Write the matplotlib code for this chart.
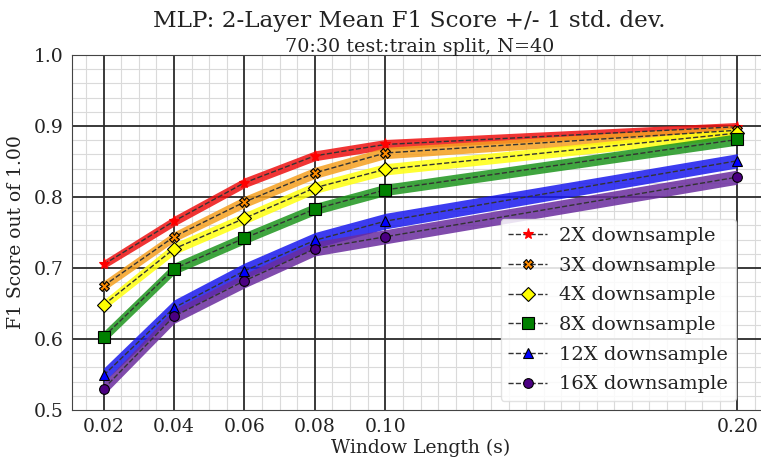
import numpy as np
import matplotlib
matplotlib.use("Agg")
import matplotlib.pyplot as plt
from matplotlib.ticker import MultipleLocator

plt.rcParams['font.family'] = 'DejaVu Serif'

# window lengths (s)
win = [0.02, 0.04, 0.06, 0.08, 0.10, 0.20]

# mean F1 per downsample factor
f1_2x = [0.705, 0.766, 0.820, 0.858, 0.874, 0.899]
f1_3x = [0.675, 0.744, 0.793, 0.834, 0.862, 0.894]
f1_4x = [0.648, 0.727, 0.770, 0.813, 0.839, 0.890]
f1_8x = [0.603, 0.699, 0.742, 0.783, 0.810, 0.881]
f1_12x = [0.549, 0.644, 0.696, 0.739, 0.766, 0.851]
f1_16x = [0.530, 0.632, 0.682, 0.727, 0.744, 0.828]

# std dev per downsample factor
sd_2x = [0.006, 0.007, 0.007, 0.007, 0.007, 0.006]
sd_3x = [0.007, 0.007, 0.008, 0.008, 0.008, 0.007]
sd_4x = [0.007, 0.008, 0.008, 0.008, 0.008, 0.007]
sd_8x = [0.008, 0.008, 0.008, 0.008, 0.008, 0.008]
sd_12x = [0.010, 0.011, 0.011, 0.011, 0.011, 0.010]
sd_16x = [0.009, 0.010, 0.010, 0.010, 0.010, 0.010]

labels = ['2X downsample', '3X downsample', '4X downsample',
          '8X downsample', '12X downsample', '16X downsample']

means = [f1_2x, f1_3x, f1_4x, f1_8x, f1_12x, f1_16x]
sds = [sd_2x, sd_3x, sd_4x, sd_8x, sd_12x, sd_16x]
band_cols = ['#ee1111', '#f5a020', '#ffff10', '#1e961e', '#1a1aee', '#6a2c9e']
mk_cols = ['red', 'darkorange', 'yellow', 'green', 'blue', 'indigo']
markers = ['*', 'X', 'D', 's', '^', 'o']
msizes = [8, 7, 7, 8.5, 7.5, 7]

fig = plt.figure(figsize=(7.61, 4.61), dpi=100)
ax = fig.add_axes([72 / 761, 51 / 461, 697 / 761, 355 / 461])

for m, s, bc, mc, mk, ms, lab in zip(means, sds, band_cols, mk_cols, markers, msizes, labels):
    m = np.array(m)
    s = np.array(s)
    ax.fill_between(win, m - s, m + s, color=bc, alpha=0.85, lw=0, zorder=3)
    mec = mc if mk == '*' else 'black'
    ax.plot(win, m, '--', color='#333333', lw=1.0, marker=mk, ms=ms,
            mfc=mc, mec=mec, mew=0.8, label=lab, zorder=4)

ax.set_ylim(0.5, 1.0)
ax.set_xticks(win)
ax.set_xticklabels(['%.2f' % w for w in win])
ax.xaxis.set_minor_locator(MultipleLocator(0.005))
ax.yaxis.set_minor_locator(MultipleLocator(0.02))
ax.grid(which='minor', color='#dadada', lw=0.8)

# major grid drawn as lines so the minor grid does not cut through it
for w in win:
    ax.axvline(w, color='#2a2a2a', lw=1.3, zorder=2)
for yv in ax.get_yticks()[1:-1]:
    ax.axhline(yv, color='#2a2a2a', lw=1.3, zorder=2)

ax.tick_params(which='both', length=0, labelsize=13.5, colors='#222222', pad=6)
for sp in ax.spines.values():
    sp.set_color('#444444')

ax.set_xlabel('Window Length (s)', fontsize=13.5, color='#222222', labelpad=2)
ax.set_ylabel('F1 Score out of 1.00', fontsize=13.5, color='#222222', labelpad=6)

fig.text(0.5375, 0.955, 'MLP: 2-Layer Mean F1 Score +/- 1 std. dev.',
         ha='center', va='center', fontsize=16.7, color='#222222')
fig.text(0.552, 0.898, '70:30 test:train split, N=40',
         ha='center', va='center', fontsize=13.8, color='#222222')

leg = ax.legend(loc='lower right', bbox_to_anchor=(0.952, 0.025), borderaxespad=0,
                fontsize=14, labelspacing=0.6, handlelength=2.0, handletextpad=0.6,
                framealpha=0.85, edgecolor='#dddddd', fancybox=True, borderpad=0.4)
leg.set_zorder(5)
for t in leg.get_texts():
    t.set_color('#222222')

fig.savefig('out.png', dpi=100)
